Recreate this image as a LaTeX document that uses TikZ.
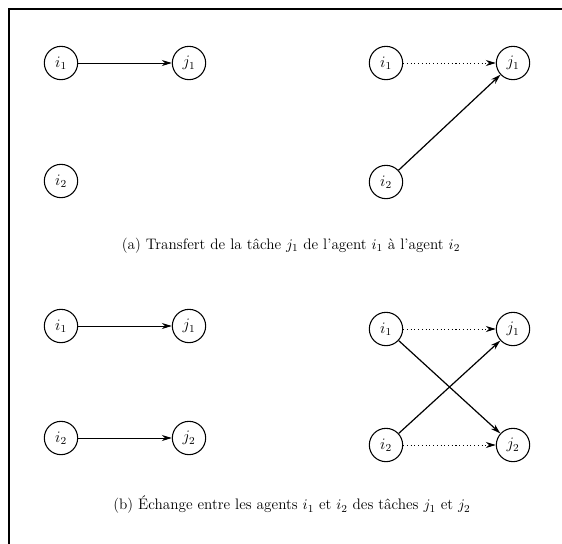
\documentclass[tikz,border=0pt]{standalone}
\usetikzlibrary{arrows.meta}

\begin{document}
\begin{tikzpicture}[
  x=0.75pt, y=-0.75pt,
  agent/.style={
    circle, draw, line width=0.8pt,
    minimum size=25pt, inner sep=0pt,
    font=\fontsize{11.5}{14}\selectfont
  },
  arr/.style={-{Stealth[length=7.5pt, width=4.5pt]}, line width=0.6pt},
  darr/.style={arr, dash pattern=on 0.8pt off 2pt},
  xarr/.style={arr, line width=0.9pt},
  legende/.style={font=\fontsize{11.4}{14}\selectfont, inner sep=0pt},
]
\useasboundingbox (0,0) rectangle (562,544);

%% ═══ CADRE ═══
\draw[line width=1.3pt] (562,9) -- (9,9) -- (9,544);

%% ═══ (a) TRANSFERT — AVANT ═══
\node[agent] (ai1) at (61,63)  {$i_1$};
\node[agent] (aj1) at (189,63) {$j_1$};
\node[agent] (ai2) at (61,181) {$i_2$};
\draw[arr] (ai1) -- (aj1);

%% ═══ (a) TRANSFERT — APRÈS ═══
\node[agent] (bi1) at (386,63)  {$i_1$};
\node[agent] (bj1) at (513,63)  {$j_1$};
\node[agent] (bi2) at (386,182) {$i_2$};
\draw[darr] (bi1) -- (bj1);
\draw[xarr] (bi2) -- (bj1);

\node[legende] (capa) at (291,246)
  {(a) Transfert de la tâche $j_1$ de l'agent $i_1$ à l'agent $i_2$};

%% ═══ (b) ÉCHANGE — AVANT ═══
\node[agent] (ci1) at (61,326)  {$i_1$};
\node[agent] (cj1) at (189,326) {$j_1$};
\node[agent] (ci2) at (61,438)  {$i_2$};
\node[agent] (cj2) at (189,438) {$j_2$};
\draw[arr] (ci1) -- (cj1);
\draw[arr] (ci2) -- (cj2);

%% ═══ (b) ÉCHANGE — APRÈS ═══
\node[agent] (di1) at (386,329) {$i_1$};
\node[agent] (dj1) at (513,329) {$j_1$};
\node[agent] (di2) at (386,445) {$i_2$};
\node[agent] (dj2) at (513,445) {$j_2$};
\draw[darr] (di1) -- (dj1);
\draw[darr] (di2) -- (dj2);
\draw[xarr] (di1) -- (dj2);
\draw[xarr] (di2) -- (dj1);

\node[legende] (capb) at (292,505)
  {(b) Échange entre les agents $i_1$ et $i_2$ des tâches $j_1$ et $j_2$};

\end{tikzpicture}
\end{document}
